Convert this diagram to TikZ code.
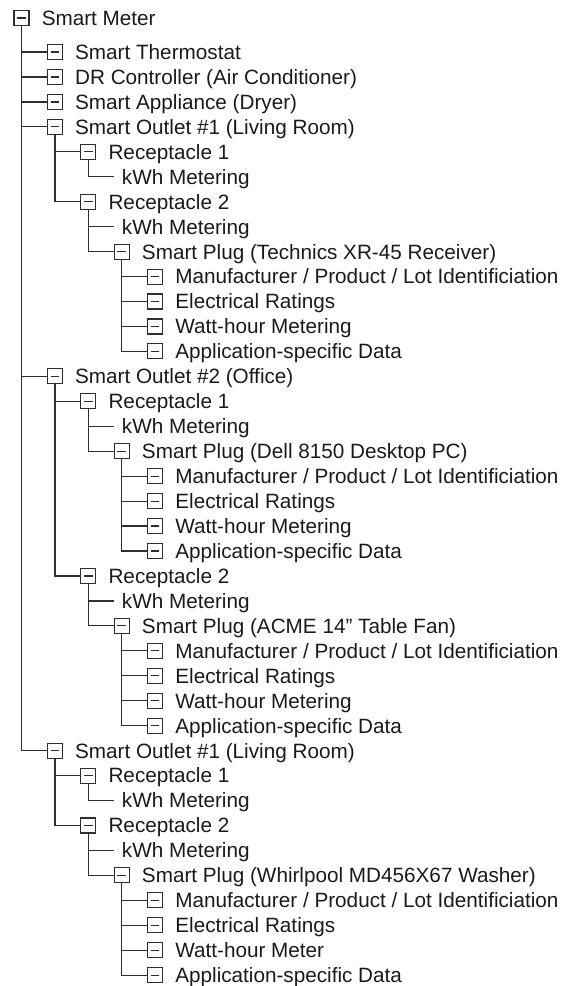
\documentclass[tikz,border=0pt]{standalone}
\usepackage{fontspec}
\setmainfont{Liberation Sans}
\usetikzlibrary{positioning}

\definecolor{treeline}{HTML}{2E2E2E}
\definecolor{treetext}{HTML}{1A1A1A}

\tikzset{
  tbox/.style={draw=treeline, line width=1.1pt, minimum size=15pt, inner sep=0pt, fill=white,
    path picture={\draw[treeline, line width=1.2pt] ([xshift=-4.3pt]path picture bounding box.center) -- ([xshift=4.3pt]path picture bounding box.center);}},
  lbl/.style={inner sep=0pt, text height=14.8pt, text depth=0pt, text=treetext,
    font=\fontsize{20.7}{24}\selectfont, anchor=west},
  branch/.style={draw=treeline, line width=1.2pt}
}

% entry with a collapse box: name, level, row, text
\def\boxentry#1#2#3#4{%
  \node[tbox] (#1) at (#2,#3) {};
  \node[lbl, right=12pt of #1] (#1t) {#4};}
% entry without a box
\def\kwhentry#1#2#3{%
  \coordinate (#1) at ([xshift=-8pt]#2,#3);
  \node[lbl, right=8pt of #1] (#1t) {kWh Metering};}
% the four data entries below a smart plug: plug, row of plug, third text
\def\plugdata#1#2#3{%
  \foreach \t [count=\i] in {{Manufacturer / Product / Lot Identificiation},{Electrical Ratings},{#3},{Application-specific Data}}{
    \boxentry{#1d\i}{4}{#2+\i}{\t}
    \draw[branch] (#1.south) |- (#1d\i.west);
  }}

\begin{document}
\begin{tikzpicture}[x=33.4pt, y=-24.95pt]
  \useasboundingbox (-21.5pt,27.05pt) rectangle ++(580pt,-986pt);

  % Root and first level
  \boxentry{meter}{0}{-0.36}{Smart Meter}
  \boxentry{therm}{1}{1}{Smart Thermostat}
  \boxentry{drc}{1}{2}{DR Controller (Air Conditioner)}
  \boxentry{dryer}{1}{3}{Smart Appliance (Dryer)}
  \boxentry{outA}{1}{4}{Smart Outlet \#1 (Living Room)}
  \boxentry{outB}{1}{14}{Smart Outlet \#2 (Office)}
  \boxentry{outC}{1}{29}{Smart Outlet \#1 (Living Room)}
  \foreach \c in {therm,drc,dryer,outA,outB,outC}
    \draw[branch] (meter.south) |- (\c.west);

  % Outlet #1 (Living Room)
  \boxentry{outArA}{2}{5}{Receptacle 1}
  \kwhentry{outArAk}{3}{6}
  \boxentry{outArB}{2}{7}{Receptacle 2}
  \kwhentry{outArBk}{3}{8}
  \boxentry{plugA}{3}{9}{Smart Plug (Technics XR-45 Receiver)}
  \plugdata{plugA}{9}{Watt-hour Metering}
  \draw[branch] (outA.south) |- (outArA.west);
  \draw[branch] (outA.south) |- (outArB.west);
  \draw[branch] (outArA.south) |- (outArAk);
  \draw[branch] (outArB.south) |- (outArBk);
  \draw[branch] (outArB.south) |- (plugA.west);

  % Outlet #2 (Office)
  \boxentry{outBrA}{2}{15}{Receptacle 1}
  \kwhentry{outBrAk}{3}{16}
  \boxentry{plugB}{3}{17}{Smart Plug (Dell 8150 Desktop PC)}
  \plugdata{plugB}{17}{Watt-hour Metering}
  \boxentry{outBrB}{2}{22}{Receptacle 2}
  \kwhentry{outBrBk}{3}{23}
  \boxentry{plugC}{3}{24}{Smart Plug (ACME 14” Table Fan)}
  \plugdata{plugC}{24}{Watt-hour Metering}
  \draw[branch] (outB.south) |- (outBrA.west);
  \draw[branch] (outB.south) |- (outBrB.west);
  \draw[branch] (outBrA.south) |- (outBrAk);
  \draw[branch] (outBrA.south) |- (plugB.west);
  \draw[branch] (outBrB.south) |- (outBrBk);
  \draw[branch] (outBrB.south) |- (plugC.west);

  % second Outlet #1 (Living Room)
  \boxentry{outCrA}{2}{30}{Receptacle 1}
  \kwhentry{outCrAk}{3}{31}
  \boxentry{outCrB}{2}{32}{Receptacle 2}
  \kwhentry{outCrBk}{3}{33}
  \boxentry{plugD}{3}{34}{Smart Plug (Whirlpool MD456X67 Washer)}
  \plugdata{plugD}{34}{Watt-hour Meter}
  \draw[branch] (outC.south) |- (outCrA.west);
  \draw[branch] (outC.south) |- (outCrB.west);
  \draw[branch] (outCrA.south) |- (outCrAk);
  \draw[branch] (outCrB.south) |- (outCrBk);
  \draw[branch] (outCrB.south) |- (plugD.west);
\end{tikzpicture}
\end{document}
